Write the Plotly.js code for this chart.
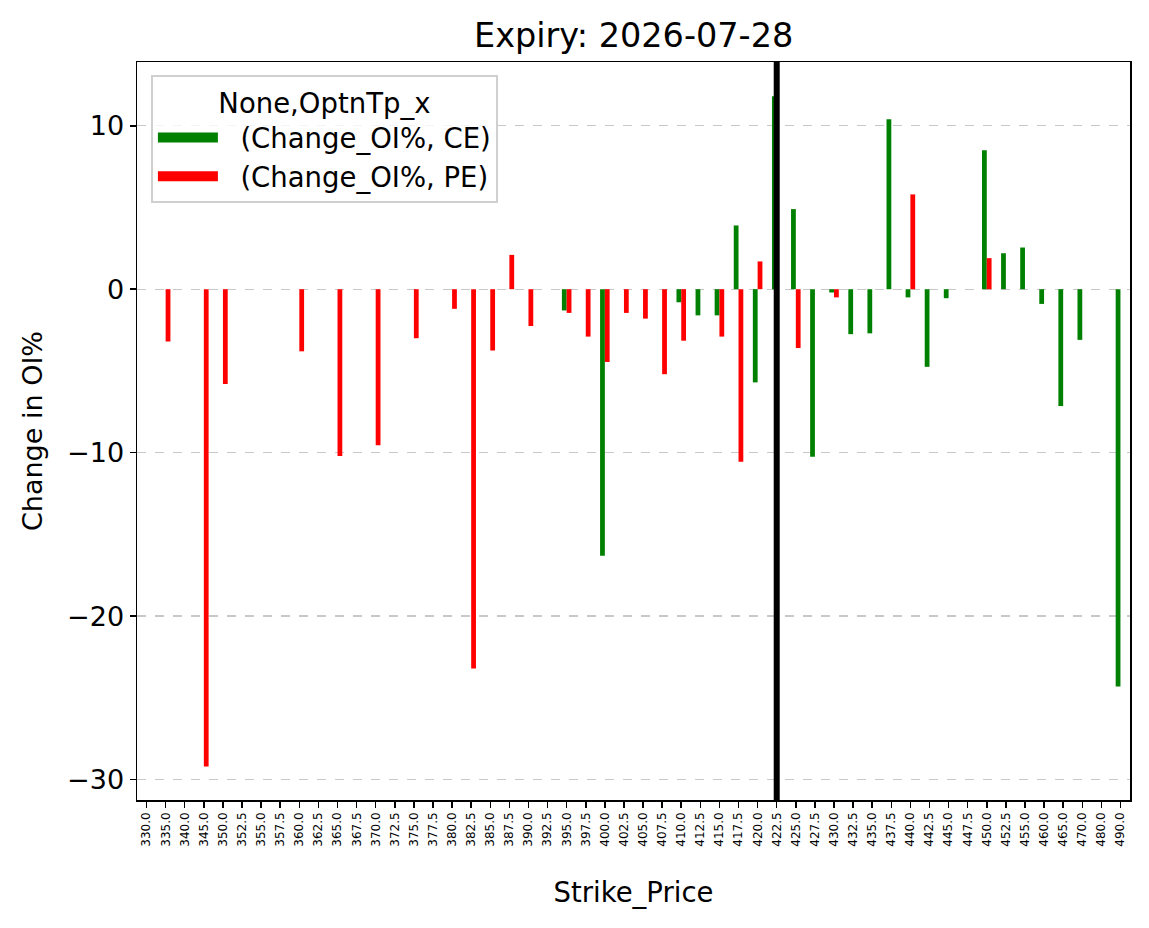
<!DOCTYPE html>
<html>
<head>
<meta charset="utf-8">
<script src="https://cdn.plot.ly/plotly-3.0.1.min.js"></script>
<style>html,body{margin:0;padding:0;background:#fff;}#chart{width:1149px;height:928px;}</style>
</head>
<body>
<div id="chart"></div>
<script>
var strikes = ['330.0','335.0','340.0','345.0','350.0','352.5','355.0','357.5','360.0','362.5','365.0','367.5','370.0','372.5','375.0','377.5','380.0','382.5','385.0','387.5','390.0','392.5','395.0','397.5','400.0','402.5','405.0','407.5','410.0','412.5','415.0','417.5','420.0','422.5','425.0','427.5','430.0','432.5','435.0','437.5','440.0','442.5','445.0','447.5','450.0','452.5','455.0','460.0','465.0','470.0','480.0','490.0'];

var ceChange = [null,null,null,null,null,null,null,null,null,null,null,null,null,null,null,null,null,null,null,null,null,null,-1.3,null,-16.3,null,null,null,-0.8,-1.6,-1.6,3.9,-5.7,11.8,4.9,-10.25,-0.2,-2.75,-2.7,10.4,-0.5,-4.75,-0.55,null,8.5,2.2,2.55,-0.9,-7.15,-3.1,null,-24.3];

var peChange = [null,-3.2,null,-29.2,-5.8,null,null,null,-3.8,null,-10.2,null,-9.55,null,-3.0,null,-1.2,-23.2,-3.75,2.1,-2.25,null,-1.45,-2.9,-4.45,-1.45,-1.8,-5.2,-3.15,null,-2.9,-10.55,1.7,null,-3.6,null,-0.5,null,null,null,5.8,null,null,null,1.9,null,null,null,null,null,null,null];

var seriesNames = ['(Change_OI%, CE)', '(Change_OI%, PE)'];
var seriesColors = ['#008000', '#ff0000'];
var spotStrike = '422.5';
var chartTitle = 'Expiry: 2026-07-28';
var legendTitle = 'None,OptnTp_x';
var xTitle = 'Strike_Price';
var yTitle = 'Change in OI%';
var yTicks = [-30, -20, -10, 0, 10];

var font = 'DejaVu Sans, sans-serif';

var traces = [
  {type:'bar', x: strikes, y: ceChange, name: seriesNames[0], marker:{color: seriesColors[0], line:{width:0}}, showlegend:false},
  {type:'bar', x: strikes, y: peChange, name: seriesNames[1], marker:{color: seriesColors[1], line:{width:0}}, showlegend:false},
  // legend-only entries with wide rectangular swatches (matplotlib style)
  {type:'scatter', mode:'lines', x:[null], y:[null], name: '\u00a0\u00a0' + seriesNames[0], line:{color: seriesColors[0], width:20}, legendgroup:'a', hoverinfo:'skip'},
  {type:'scatter', mode:'lines', x:[null], y:[null], name: '\u00a0\u00a0' + seriesNames[1], line:{color: seriesColors[1], width:20}, legendgroup:'b', hoverinfo:'skip'}
];

var spotIndex = strikes.indexOf(spotStrike);

var layout = {
  width: 1149, height: 928,
  paper_bgcolor: '#ffffff', plot_bgcolor: '#ffffff',
  margin: {l:137, r:19, t:62, b:128, pad:0},
  font: {family: font, color:'#000000', size: 27},
  barmode: 'group', bargap: 0.5, bargroupgap: 0,
  title: {text: chartTitle, font:{family: font, size: 33.5, color:'#000'}, x: 0.5515, xanchor:'center', y: 0.962, yanchor:'middle'},
  showlegend: true,
  legend: {
    x: 0.014, y: 0.982, xanchor:'left', yanchor:'top',
    bgcolor:'rgba(255,255,255,0.8)', bordercolor:'#d0d0d0', borderwidth:2,
    font:{family: font, size:27.5, color:'#000'},
    title:{text: legendTitle, side:'top center', font:{family: font, size:27.5, color:'#000'}},
    itemwidth: 60, tracegroupgap: 14, traceorder:'normal'
  },
  xaxis: {
    type:'category', categoryorder:'array', categoryarray: strikes,
    range:[-0.5, 51.5],
    tickangle: -90, tickfont:{family: font, size:12, color:'#000'},
    ticks:'outside', ticklen:6, tickwidth:1.5, tickcolor:'#000',
    showline:true, linecolor:'#000', linewidth:1.5, mirror:true,
    showgrid:false, zeroline:false,
    title:{text: xTitle, font:{family: font, size:27.5, color:'#000'}, standoff: 37}
  },
  yaxis: {
    range:[-31.25, 13.9],
    tickmode:'array', tickvals: yTicks, ticktext: yTicks.map(function(v){return v<0 ? '\u2212'+Math.abs(v) : String(v);}),
    tickfont:{family: font, size:27, color:'#000'},
    ticks:'outside', ticklen:6, tickwidth:1.5, tickcolor:'#000',
    showline:true, linecolor:'#000', linewidth:1.5, mirror:true,
    showgrid:true, gridcolor:'rgba(176,176,176,0.7)', gridwidth:1.3, griddash:'dash',
    zeroline:false,
    title:{text: yTitle, font:{family: font, size:27, color:'#000'}, standoff: 16}
  },
  shapes: [{
    type:'line', xref:'x', yref:'paper', x0: spotIndex, x1: spotIndex, y0:0, y1:1,
    line:{color:'#000000', width:6}, layer:'above'
  }]
};

Plotly.newPlot('chart', traces, layout, {displayModeBar:false, staticPlot:true});
</script>
</body>
</html>
